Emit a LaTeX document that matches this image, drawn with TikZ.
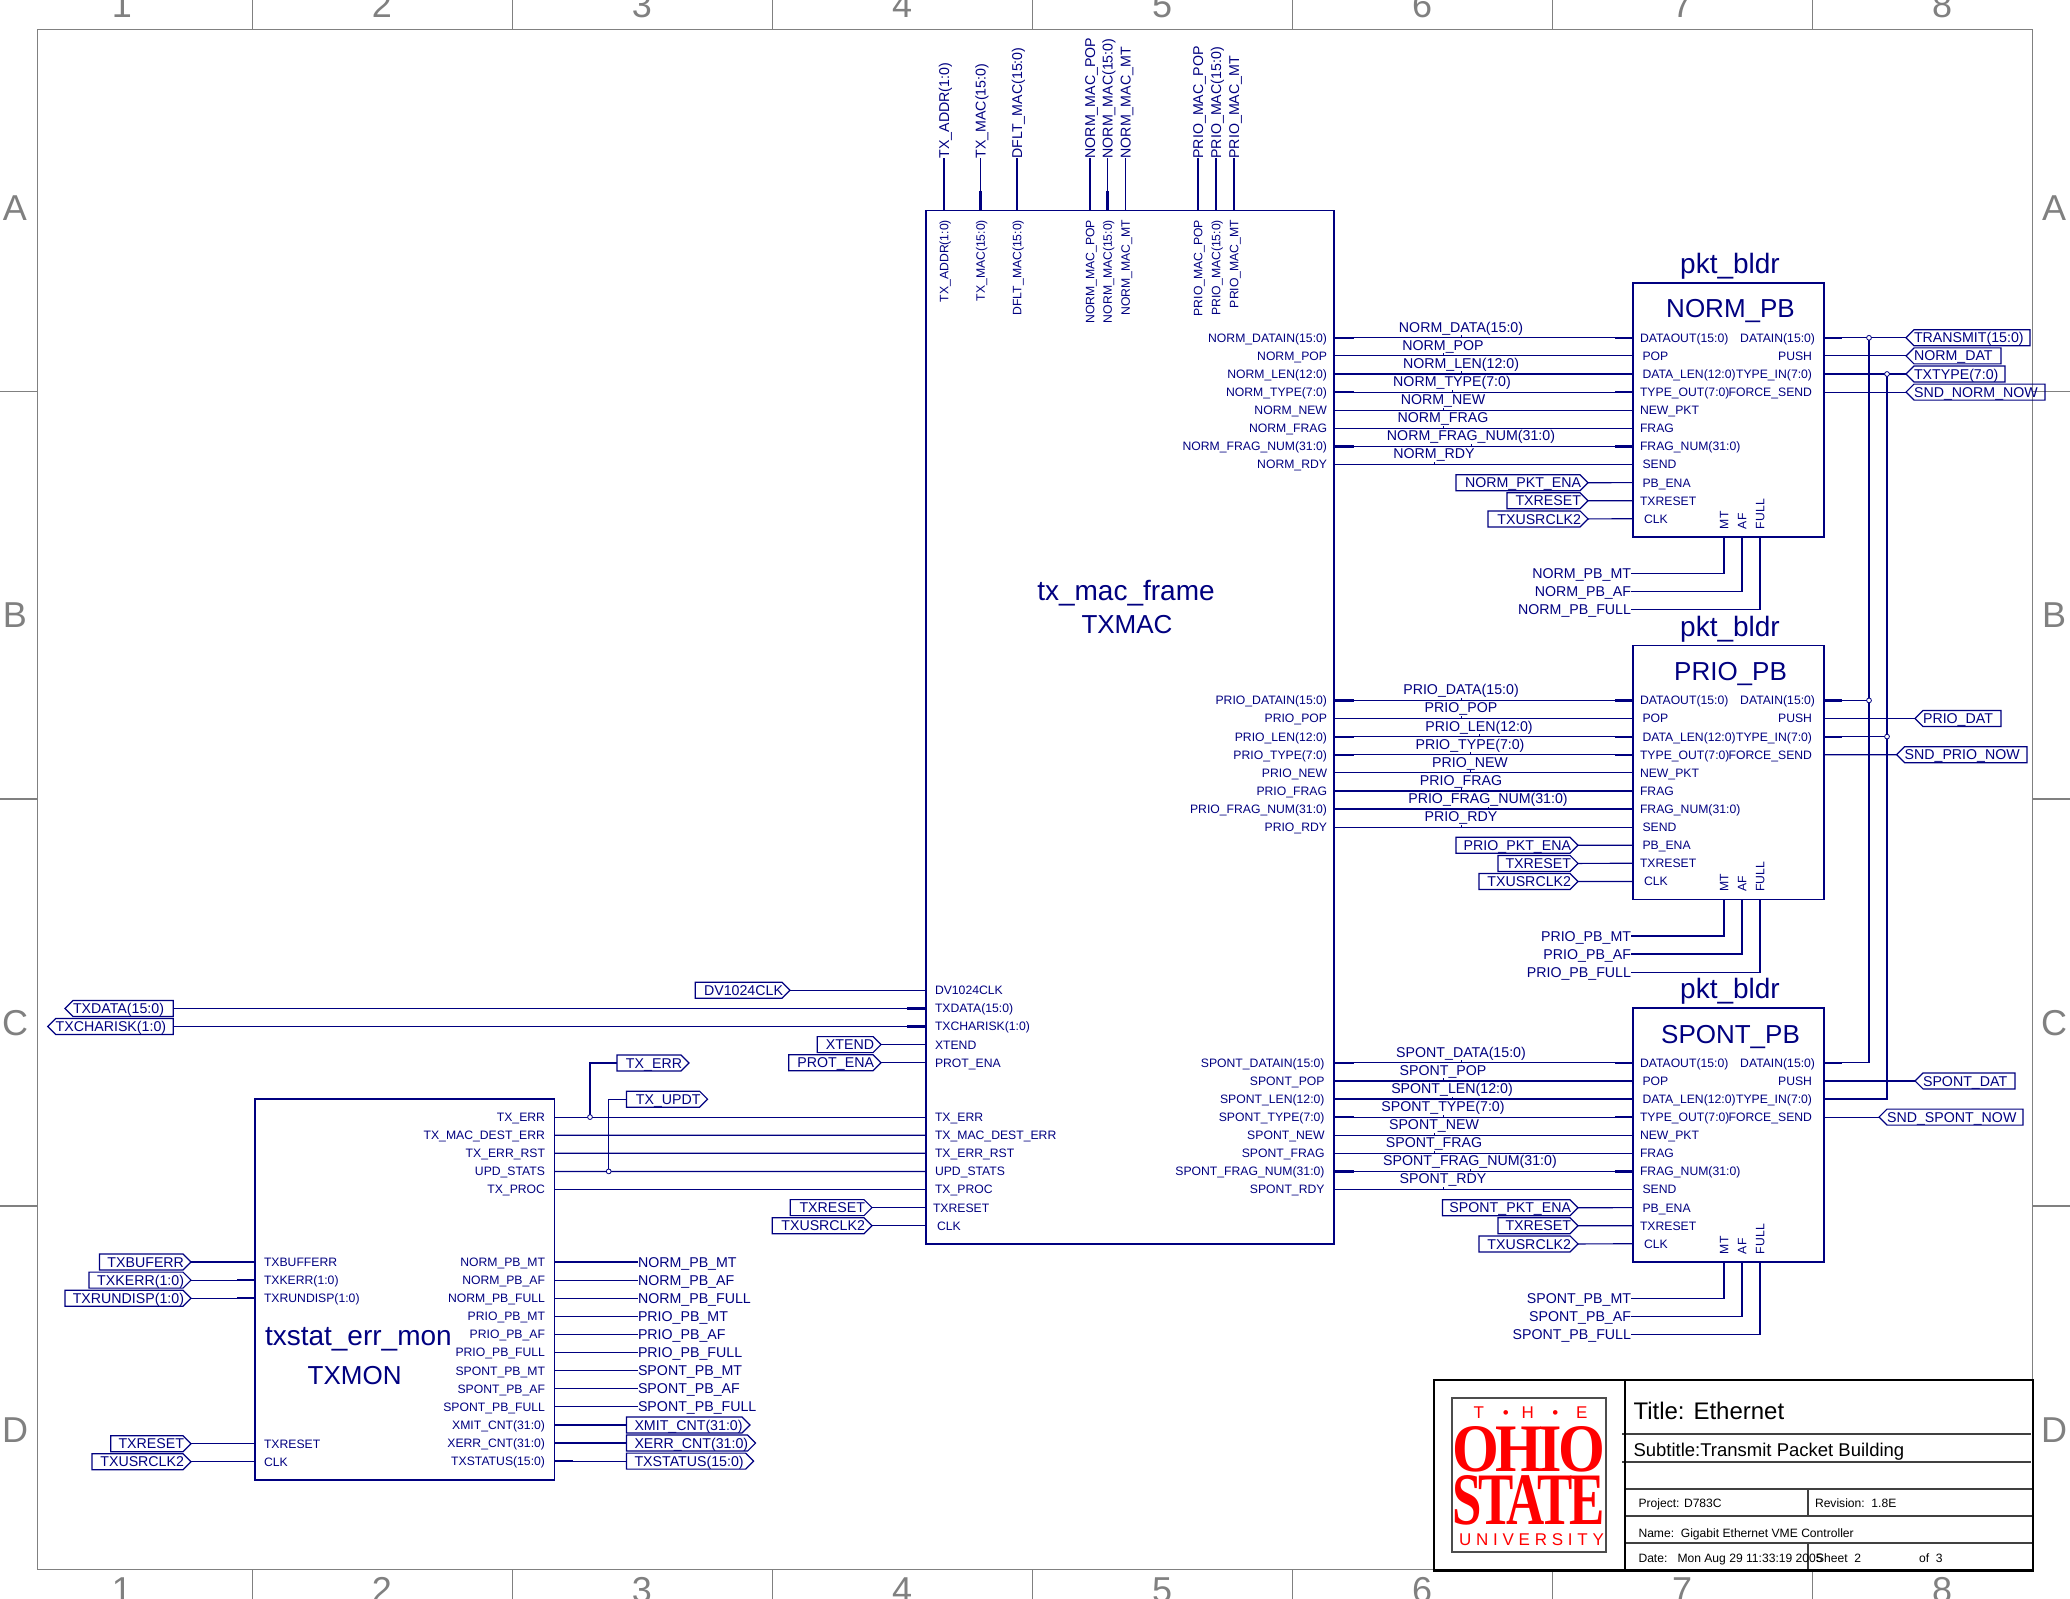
\documentclass[tikz,border=0pt]{standalone}
\usepackage{fontspec}
\usepackage{graphicx}
\setmainfont{Liberation Sans}
\newfontfamily\logofont[LetterSpace=-6]{Liberation Serif}
\usetikzlibrary{calc}
\definecolor{navyd}{RGB}{0,0,128}
\definecolor{framegray}{RGB}{128,128,128}
\definecolor{logored}{RGB}{255,0,0}
\catcode`\_=12
\tikzset{
 wire/.style={draw=navyd,line width=0.6pt},
 stub/.style={draw=navyd,line width=1.1pt},
 blockbox/.style={draw=navyd,line width=0.6pt,inner sep=0pt,outer sep=0pt,anchor=north west},
 portline/.style={draw=navyd,line width=0.6pt},
 pinl/.style={inner sep=0pt,outer sep=0pt,text=navyd,font=\fontsize{6.1}{7}\selectfont,text height=4.4pt,text depth=0pt},
 netl/.style={inner sep=0pt,outer sep=0pt,text=navyd,font=\fontsize{7.1}{8}\selectfont,text height=5.1pt,text depth=0pt},
 bigl/.style={inner sep=0pt,outer sep=0pt,text=navyd,font=\fontsize{14}{16}\selectfont},
 bigm/.style={inner sep=0pt,outer sep=0pt,text=navyd,font=\fontsize{13}{15}\selectfont},
 junc/.style={circle,draw=navyd,fill=white,line width=0.4pt,inner sep=0pt,minimum size=2.4pt},
 gridl/.style={draw=framegray,line width=0.7pt},
 gridt/.style={inner sep=0pt,outer sep=0pt,text=framegray,font=\fontsize{18}{20}\selectfont},
 tbouter/.style={draw=black,line width=1.4pt},
 tbinner/.style={draw=black!75,line width=0.55pt},
 tbsmall/.style={inner sep=0pt,outer sep=0pt,anchor=west,text=black,font=\fontsize{6.05}{7}\selectfont,text height=4.4pt,text depth=0pt},
 logol/.style={inner sep=0pt,outer sep=0pt,text=logored},
}
% right-pointing port: name, left x, tip x, y, text
\newcommand\portR[5]{%
 \coordinate (#1) at (#3,#4);
 \coordinate (#1L) at (#2,#4);
 \draw[portline] (#2,#4-8) -- ({#3-8},#4-8) -- (#1) -- ({#3-8},#4+8) -- (#2,#4+8) -- cycle;
 \node[netl,anchor=east] (#1t) at ({#3-7},#4) {#5};}
% same, text set from the left edge
\newcommand\portRw[5]{%
 \coordinate (#1) at (#3,#4);
 \coordinate (#1L) at (#2,#4);
 \draw[portline] (#2,#4-8) -- ({#3-8},#4-8) -- (#1) -- ({#3-8},#4+8) -- (#2,#4+8) -- cycle;
 \node[netl,anchor=west] (#1t) at ({#2+8},#4) {#5};}
% left-pointing port: name, tip x, right x, y, text
\newcommand\portL[5]{%
 \coordinate (#1) at (#2,#4);
 \coordinate (#1R) at (#3,#4);
 \draw[portline] (#3,#4-8) -- ({#2+8},#4-8) -- (#1) -- ({#2+8},#4+8) -- (#3,#4+8) -- cycle;
 \node[netl,anchor=west] (#1t) at ({#2+8},#4) {#5};}
% packet builder block: prefix, y offset, wire label centres, mac label right x, left-port lefts (3), left port tip
\newcommand\PBblock[7]{%
 \begin{scope}[shift={(0,#2)}]
 \node[blockbox,minimum width=95.5pt,minimum height=127pt] (#1box) at (1633,283) {};
 \node[bigl] (#1inst) at (1730,266.5) {pkt_bldr};
 \node[bigm] (#1name) at (1730.5,311.5) {#1_PB};
 \foreach \i/\mac/\net/\pb/\px/\bus in {%
   0/DATAIN(15:0)/DATA(15:0)/DATAOUT(15:0)/1640/1,
   1/POP/POP/POP/1642.5/0,
   2/LEN(12:0)/LEN(12:0)/DATA_LEN(12:0)/1642.5/1,
   3/TYPE(7:0)/TYPE(7:0)/TYPE_OUT(7:0)/1640/1,
   4/NEW/NEW/NEW_PKT/1640/0,
   5/FRAG/FRAG/FRAG/1640/0,
   6/FRAG_NUM(31:0)/FRAG_NUM(31:0)/FRAG_NUM(31:0)/1640/1,
   7/RDY/RDY/SEND/1642.5/0}{%
   \pgfmathsetmacro\yy{337.8+18.1*\i}
   \pgfmathsetmacro\wx{{#3}[\i]}
   \coordinate (#1M\i) at (1334,\yy);
   \coordinate (#1P\i) at (1633,\yy);
   \draw[wire] (#1M\i) -- (#1P\i);
   \ifnum\bus=1
     \draw[stub] (#1M\i) -- ++(20,0);
     \draw[stub] (#1P\i) -- ++(-18,0);
   \fi
   \node[pinl,anchor=east] (#1ml\i) at (#4,\yy) {#1_\mac};
   \node[netl,anchor=center] (#1nl\i) at (\wx,\yy-10.7) {#1_\net};
   \draw[wire,line width=0.35pt] (#1P\i -| #1nl\i.south) -- ++(0,-2.5);
   \node[pinl,anchor=west] (#1pl\i) at (\px,\yy) {\pb};
 }
 \foreach \i/\pb/\px in {8/PB_ENA/1642.5,9/TXRESET/1640,10/CLK/1644}{%
   \pgfmathsetmacro\yy{337.8+18.1*\i}
   \coordinate (#1P\i) at (1633,\yy);
   \node[pinl,anchor=west] (#1pl\i) at (\px,\yy) {\pb};
 }
 \foreach \i/\pb/\px in {0/DATAIN(15:0)/1815,1/PUSH/1812,2/TYPE_IN(7:0)/1812,3/FORCE_SEND/1812}{%
   \pgfmathsetmacro\yy{337.8+18.1*\i}
   \coordinate (#1R\i) at (1824,\yy);
   \node[pinl,anchor=east] (#1rl\i) at (\px,\yy) {\pb};
 }
 \draw[stub] (#1R0) -- ++(18,0);
 \draw[stub] (#1R2) -- ++(18,0);
 \portR{#1ena}{#5}{#7}{482.7}{#1_PKT_ENA}
 \draw[wire] (#1ena) -- (#1P8);
 \portR{#1rst}{#6}{#7}{500.8}{TXRESET}
 \draw[wire] (#1rst) -- (#1P9);
 \pgfmathsetmacro\uclk{#6-19}
 \portR{#1clk}{\uclk}{#7}{518.9}{TXUSRCLK2}
 \draw[wire] (#1clk) -- (#1P10);
 \foreach \k/\x/\t/\yb in {0/1724/MT/573.3,1/1742/AF/591.4,2/1760/FULL/609.5}{%
   \coordinate (#1B\k) at (\x,537);
   \node[pinl,rotate=90,anchor=west] (#1bl\k) at (\x,529) {\t};
 }
 \node[netl,anchor=east] (#1lm) at (1631,573.3) {#1_PB_MT};
 \node[netl,anchor=east] (#1la) at (1631,591.4) {#1_PB_AF};
 \node[netl,anchor=east] (#1lf) at (1631,609.5) {#1_PB_FULL};
 \draw[wire] (#1B0) |- (#1lm.east);
 \draw[wire] (#1B1) |- (#1la.east);
 \draw[wire] (#1B2) |- (#1lf.east);
 \end{scope}}
\begin{document}
\begin{tikzpicture}[x=0.5pt,y=-0.5pt]
\useasboundingbox (0,0) rectangle (2070,1599);
% ---------- sheet frame ----------
\draw[gridl] (37.5,29.5) rectangle (2032.5,1569.5);
\foreach \x in {252.7,512.7,772.7,1032.7,1292.7,1552.7,1812.7}{%
  \draw[gridl] (\x,0) -- (\x,29.5);
  \draw[gridl] (\x,1569.5) -- (\x,1599);
}
\foreach \y in {391.5,799,1206}{%
  \draw[gridl] (0,\y) -- (37.5,\y);
  \draw[gridl] (2032.5,\y) -- (2070,\y);
}
\begin{scope}
\clip (0,0) rectangle (2070,1599);
\foreach \n/\x in {1/122,2/382,3/642,4/902,5/1162,6/1422,7/1682,8/1942}{%
  \node[gridt] (gt\n) at (\x,5) {\n};
  \node[gridt] (gb\n) at (\x,1590) {\n};
}
\end{scope}
\foreach \l/\y in {A/208.5,B/615,C/1023,D/1430}{%
  \node[gridt] (gl\l) at (15,\y) {\l};
  \node[gridt] (gr\l) at (2054,\y) {\l};
}
% ---------- TXMAC ----------
\node[blockbox,minimum width=204pt,minimum height=516.7pt] (mac) at (926,210.5) {};
\node[bigl] (macinst) at (1126,593.5) {tx_mac_frame};
\node[bigm] (macname) at (1127,624.5) {TXMAC};
\foreach \k/\x/\nm/\bus in {0/944/TX_ADDR(1:0)/1,1/980.5/TX_MAC(15:0)/1,2/1017/DFLT_MAC(15:0)/1,3/1090/NORM_MAC_POP/0,4/1107.5/NORM_MAC(15:0)/1,5/1125.5/NORM_MAC_MT/0,6/1198/PRIO_MAC_POP/0,7/1216/PRIO_MAC(15:0)/1,8/1234/PRIO_MAC_MT/0}{%
  \coordinate (topP\k) at (\x,210.5);
  \node[netl,rotate=90,anchor=west] (topN\k) at (\x,158.5) {\nm};
  \node[pinl,rotate=90,anchor=east] (topL\k) at (\x,220) {\nm};
  \draw[wire] (topP\k) -- (topN\k.west);
  \ifnum\bus=1 \draw[stub] (topP\k) -- ++(0,-19); \fi
}
\foreach \k/\nm/\x/\yy in {0/DV1024CLK/935/990.3,1/TXDATA(15:0)/935/1008.4,2/TXCHARISK(1:0)/935/1026.5,3/XTEND/935/1044.6,4/PROT_ENA/935/1062.7,5/TX_ERR/935/1117.1,6/TX_MAC_DEST_ERR/935/1135.2,7/TX_ERR_RST/935/1153.3,8/UPD_STATS/935/1171.4,9/TX_PROC/935/1189.5,10/TXRESET/933/1207.6,11/CLK/937/1225.7}{%
  \coordinate (macL\k) at (926,\yy);
  \node[pinl,anchor=west] (macLt\k) at (\x,\yy) {\nm};
}
\portR{pDV}{695.3}{790}{990.3}{DV1024CLK}
\draw[wire] (pDV) -- (macL0);
\portL{pTXD}{65}{173.3}{1008.4}{TXDATA(15:0)}
\draw[wire] (pTXDR) -- (macL1);
\draw[stub] (macL1) -- ++(-19,0);
\portL{pTXC}{47.7}{173.3}{1026.5}{TXCHARISK(1:0)}
\draw[wire] (pTXCR) -- (macL2);
\draw[stub] (macL2) -- ++(-19,0);
\portR{pXT}{817.3}{881}{1044.6}{XTEND}
\draw[wire] (pXT) -- (macL3);
\portR{pPE}{788.7}{881}{1062.7}{PROT_ENA}
\draw[wire] (pPE) -- (macL4);
\portR{pMR}{790.3}{872}{1207.6}{TXRESET}
\draw[wire] (pMR) -- (macL10);
\portR{pMC}{772.3}{872}{1225.7}{TXUSRCLK2}
\draw[wire] (pMC) -- (macL11);
% ---------- packet builders ----------
\PBblock{NORM}{0}{1461,1443,1461,1452,1443,1443,1471,1434}{1327}{1456}{1507}{1588}
\PBblock{PRIO}{362.6}{1461,1461,1479,1470,1470,1461,1488,1461}{1327}{1456}{1498}{1578}
\PBblock{SPONT}{725}{1461,1443,1452,1443,1434,1434,1470,1443}{1324.5}{1442.5}{1498}{1578}
% right-hand ports
\portL{pTRANS}{1906}{2030}{337.8}{TRANSMIT(15:0)}
\portL{pNDAT}{1906}{2001}{355.9}{NORM_DAT}
\portL{pTTYPE}{1906}{2005}{374}{TXTYPE(7:0)}
\portL{pSNN}{1906}{2045}{392.1}{SND_NORM_NOW}
\portL{pPDAT}{1915}{2001}{718.5}{PRIO_DAT}
\portL{pSPN}{1896.6}{2027}{754.7}{SND_PRIO_NOW}
\portL{pSDAT}{1915}{2015}{1080.9}{SPONT_DAT}
\portL{pSSN}{1879}{2023}{1117.1}{SND_SPONT_NOW}
\coordinate (ja) at (1869,337.8);
\coordinate (jb) at (1869,700.4);
\coordinate (jc) at (1887,374);
\coordinate (jd) at (1887,736.6);
\draw[wire] (NORMR0) -- (pTRANS);
\draw[wire] (NORMR1) -- (pNDAT);
\draw[wire] (NORMR2) -- (pTTYPE);
\draw[wire] (NORMR3) -- (pSNN);
\draw[wire] (PRIOR0) -- (jb);
\draw[wire] (PRIOR1) -- (pPDAT);
\draw[wire] (PRIOR2) -- (jd);
\draw[wire] (PRIOR3) -- (pSPN);
\draw[wire] (SPONTR1) -- (pSDAT);
\draw[wire] (SPONTR3) -- (pSSN);
\draw[wire] (SPONTR0) -| (ja);
\draw[wire] (SPONTR2) -| (jc);
\node[junc] (jan) at (ja) {};
\node[junc] (jbn) at (jb) {};
\node[junc] (jcn) at (jc) {};
\node[junc] (jdn) at (jd) {};
% ---------- TXMON ----------
\node[blockbox,minimum width=149.8pt,minimum height=190.5pt] (mon) at (255,1099) {};
\node[bigl,anchor=west] (moninst) at (265,1339.5) {txstat_err_mon};
\node[bigm] (monname) at (354.6,1376) {TXMON};
\foreach \k/\nm in {0/TX_ERR,1/TX_MAC_DEST_ERR,2/TX_ERR_RST,3/UPD_STATS,4/TX_PROC}{%
  \pgfmathsetmacro\yy{1117.1+18.1*\k}
  \coordinate (monR\k) at (554.6,\yy);
  \node[pinl,anchor=east] (monRt\k) at (545,\yy) {\nm};
}
\draw[wire] (monR0) -- (macL5);
\draw[wire] (monR1) -- (macL6);
\draw[wire] (monR2) -- (macL7);
\draw[wire] (monR3) -- (macL8);
\draw[wire] (monR4) -- (macL9);
\portR{pTE}{617}{689}{1063}{TX_ERR}
\portR{pTU}{626.5}{707.6}{1099.2}{TX_UPDT}
\coordinate (je) at (590,1117.1);
\coordinate (jf) at (608.7,1171.4);
\draw[wire] (je) |- (pTEL);
\draw[wire] (jf) |- (pTUL);
\node[junc] (jen) at (je) {};
\node[junc] (jfn) at (jf) {};
\foreach \k/\nm in {0/NORM_PB_MT,1/NORM_PB_AF,2/NORM_PB_FULL,3/PRIO_PB_MT,4/PRIO_PB_AF,5/PRIO_PB_FULL,6/SPONT_PB_MT,7/SPONT_PB_AF,8/SPONT_PB_FULL}{%
  \pgfmathsetmacro\yy{1262+18.1*\k}
  \coordinate (monS\k) at (554.6,\yy);
  \node[pinl,anchor=east] (monSt\k) at (545,\yy) {\nm};
  \node[netl,anchor=west] (monSn\k) at (638,\yy) {\nm};
  \draw[wire] (monS\k) -- (monSn\k.west);
}
\foreach \k/\nm/\tip in {9/XMIT_CNT(31:0)/750,10/XERR_CNT(31:0)/755.6,11/TXSTATUS(15:0)/753.6}{%
  \pgfmathsetmacro\yy{1262+18.1*\k}
  \coordinate (monS\k) at (554.6,\yy);
  \node[pinl,anchor=east] (monSt\k) at (545,\yy) {\nm};
  \portRw{pmon\k}{626.5}{\tip}{\yy}{\nm}
  \draw[wire] (monS\k) -- (pmon\k L);
  \draw[stub] (monS\k) -- ++(18,0);
}
\foreach \k/\nm/\yy in {0/TXBUFFERR/1262,1/TXKERR(1:0)/1280.1,2/TXRUNDISP(1:0)/1298.2,3/TXRESET/1443.7,4/CLK/1461.8}{%
  \coordinate (monL\k) at (255,\yy);
  \node[pinl,anchor=west] (monLt\k) at (264,\yy) {\nm};
}
\portR{pBE}{99.5}{191}{1262}{TXBUFERR}
\draw[wire] (pBE) -- (monL0);
\portR{pKE}{89}{191}{1280.1}{TXKERR(1:0)}
\draw[wire] (pKE) -- (monL1);
\draw[stub] (monL1) -- ++(-18,0);
\portR{pRD}{65}{191}{1298.2}{TXRUNDISP(1:0)}
\draw[wire] (pRD) -- (monL2);
\draw[stub] (monL2) -- ++(-18,0);
\portR{pMRS}{110.7}{191}{1443.7}{TXRESET}
\draw[wire] (pMRS) -- (monL3);
\portR{pMCK}{92}{191}{1461.8}{TXUSRCLK2}
\draw[wire] (pMCK) -- (monL4);
% ---------- title block ----------
\draw[tbinner] (1622,1434) -- (2031,1434);
\draw[tbinner] (1622,1462) -- (2031,1462);
\draw[tbinner] (1625,1489) -- (2033,1489);
\draw[tbinner] (1625,1516) -- (2033,1516);
\draw[tbinner] (1625,1543) -- (2033,1543);
\draw[tbinner] (1808,1489) -- (1808,1516);
\draw[tbinner] (1808,1543) -- (1808,1570);
\draw[tbouter] (1625,1380) -- (1625,1570.5);
\draw[tbouter] (1434,1380) rectangle (2033,1570.5);
\node[inner sep=0pt,outer sep=0pt,anchor=west,font=\fontsize{12}{14}\selectfont] (tbtitle) at (1633.5,1411) {Title: Ethernet};
\node[inner sep=0pt,outer sep=0pt,anchor=west,font=\fontsize{9.25}{11}\selectfont] (tbsub) at (1633.5,1452) {Subtitle:\hspace{0pt}Transmit Packet Building};
\node[tbsmall] (tbproj) at (1638.5,1503) {Project: D783C};
\node[tbsmall] (tbrev) at (1815,1503) {Revision:\ \ 1.8E};
\node[tbsmall] (tbname) at (1638.5,1533) {Name:\ \ Gigabit Ethernet VME Controller};
\node[tbsmall] (tbdate) at (1638.5,1558) {Date:\ \ \ Mon Aug 29 11:33:19 2005};
\node[tbsmall] (tbsheet) at (1816,1558) {Sheet\ \ 2};
\node[tbsmall] (tbof) at (1919,1558) {of\ \ 3};
% logo
\draw[draw=black!70,line width=0.6pt] (1452,1398) rectangle (1606,1552);
\node[logol,font=\fontsize{8.5}{10}\selectfont,text height=6pt,text depth=0pt] (lgthe) at (1530.5,1412) {T\hspace{9.4pt}•\hspace{6.4pt}H\hspace{9.2pt}•\hspace{8.9pt}E};
\node[logol] (lgohio) at (1528.5,1449) {\resizebox{76.5pt}{22.5pt}{\logofont\bfseries OHIO}};
\node[logol] (lgstate) at (1528.5,1500.5) {\resizebox{76.5pt}{24.5pt}{\logofont\bfseries STATE}};
\node[logol,anchor=west,font=\fontsize{8.5}{10}\selectfont,text height=6pt,text depth=0pt] (lguniv) at (1459,1539) {\addfontfeature{LetterSpace=28}UNIVERSITY};
\end{tikzpicture}
\end{document}
